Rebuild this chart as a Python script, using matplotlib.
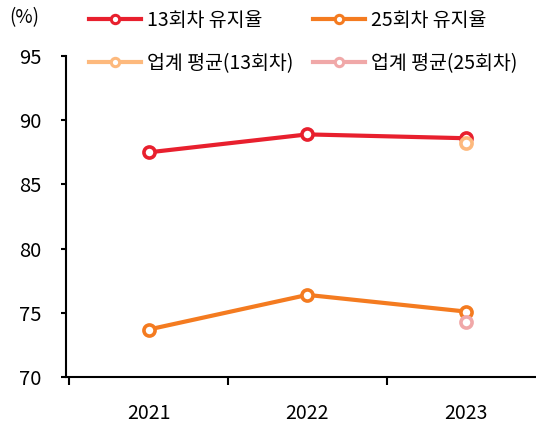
import matplotlib.pyplot as plt
from matplotlib.ticker import FixedLocator
from matplotlib.lines import Line2D

plt.rcParams['font.family'] = ['Noto Sans CJK KR', 'DejaVu Sans']

years = ['2021', '2022', '2023']
ret13 = [87.5, 88.9, 88.6]
ret25 = [73.7, 76.4, 75.1]
ind13 = [88.2]
ind25 = [74.3]
ind_year = ['2023']

RED = '#E8202E'
ORANGE = '#F47B20'
LORANGE = '#FDB97D'
PINK = '#F0A8A8'

fig = plt.figure(figsize=(5.36, 4.28), dpi=100)
ax = fig.add_axes([0.123, 0.119, 0.877, 0.750])

x = list(range(len(years)))
xi = [years.index(y) for y in ind_year]
mk = dict(marker='o', markersize=8, markeredgewidth=2.6, markerfacecolor='white')

ax.plot(x, ret13, color=RED, lw=3, **mk)
ax.plot(x, ret25, color=ORANGE, lw=3, **mk)
ax.plot(xi, ind13, color=LORANGE, linestyle='none', **mk)
ax.plot(xi, ind25, color=PINK, linestyle='none', **mk)

ax.set_ylim(70, 95)
ax.set_yticks([70, 75, 80, 85, 90, 95])
ax.set_xlim(-0.52, 2.44)
ax.set_xticks(x)
ax.set_xticklabels(years)
ax.xaxis.set_minor_locator(FixedLocator([-0.5, 0.5, 1.5, 2.5]))
ax.tick_params(axis='x', which='major', length=0, pad=19, labelsize=14)
ax.tick_params(axis='x', which='minor', length=6, width=1.5, direction='out')
ax.tick_params(axis='y', length=3.5, width=1.5, labelsize=14.5, pad=14)

for s in ['top', 'right']:
    ax.spines[s].set_visible(False)
for s in ['left', 'bottom']:
    ax.spines[s].set_linewidth(1.5)

fig.text(0.018, 0.958, '(%)', fontsize=13.5, va='center')

# legend: line + small open circle
lmk = dict(marker='o', markersize=6, markeredgewidth=2.2, markerfacecolor='white')
handles = [Line2D([], [], color=c, lw=3, **lmk) for c in [RED, LORANGE, ORANGE, PINK]]
labels = ['13회차 유지율', '업계 평균(13회차)', '25회차 유지율', '업계 평균(25회차)']
fig.legend(handles, labels, ncol=2, loc='upper left', bbox_to_anchor=(0.147, 1.0),
           frameon=False, fontsize=14, handlelength=2.7, handletextpad=0.3,
           columnspacing=1.0, labelspacing=1.15, borderpad=0)

fig.savefig('out.png', dpi=100)
